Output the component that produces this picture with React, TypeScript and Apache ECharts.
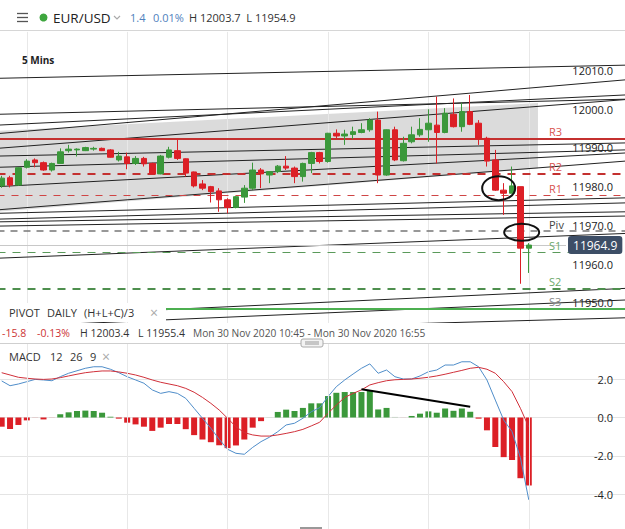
import React, { useEffect, useRef } from "react";
import * as echarts from "echarts";

const FONT = "'Open Sans', 'Noto Sans', sans-serif";

// ---- Price candles (5 min) ----
const candleOpen = [11980.2, 11982.3, 11980.4, 11985.0, 11986.9, 11986.2, 11984.3, 11986.0, 11989.3, 11989.5, 11989.3, 11989.7, 11989.9, 11989.5, 11986.9, 11987.7, 11986.0, 11987.3, 11986.0, 11983.3, 11987.6, 11989.3, 11987.2, 11983.8, 11980.7, 11980.0, 11978.9, 11976.6, 11974.6, 11977.3, 11979.6, 11984.3, 11983.0, 11983.9, 11985.3, 11984.8, 11982.6, 11986.0, 11988.8, 11986.5, 11993.8, 11993.1, 11993.5, 11994.0, 11994.7, 11997.2, 11983.0, 11994.7, 11986.7, 11991.6, 11993.4, 11994.7, 11995.9, 11994.0, 11998.7, 11995.5, 11999.4, 11996.4, 11992.5, 11986.9, 11979.1, 11978.3, 11980.0, 11964.1];
const candleClose = [11982.2, 11980.4, 11984.9, 11986.6, 11986.2, 11984.3, 11986.0, 11989.0, 11989.7, 11989.7, 11990.1, 11989.9, 11989.3, 11987.6, 11987.9, 11986.0, 11987.3, 11985.9, 11983.3, 11987.9, 11989.5, 11987.3, 11983.5, 11980.2, 11979.6, 11978.7, 11976.6, 11974.6, 11977.4, 11979.6, 11984.3, 11983.3, 11983.9, 11985.3, 11984.8, 11982.6, 11986.0, 11988.8, 11986.5, 11993.8, 11993.1, 11993.6, 11994.2, 11994.7, 11997.2, 11983.0, 11994.7, 11986.9, 11991.2, 11993.4, 11994.8, 11996.4, 11994.0, 11999.0, 11995.5, 11999.4, 11996.1, 11992.5, 11986.6, 11979.1, 11978.3, 11980.2, 11964.1, 11964.9];
const candleLow = [11979.7, 11979.8, 11980.2, 11984.7, 11985.0, 11984.1, 11983.9, 11986.0, 11988.8, 11987.8, 11989.2, 11989.3, 11989.2, 11987.5, 11986.5, 11984.5, 11985.6, 11985.2, 11983.2, 11983.2, 11987.3, 11986.9, 11982.6, 11979.8, 11979.1, 11975.9, 11973.5, 11973.1, 11974.4, 11975.8, 11979.1, 11979.6, 11980.9, 11983.5, 11984.3, 11980.9, 11981.3, 11983.5, 11986.0, 11986.2, 11992.5, 11990.8, 11992.3, 11993.8, 11994.2, 11980.9, 11982.8, 11986.6, 11986.5, 11991.2, 11992.9, 11991.6, 11986.0, 11993.8, 11995.3, 11994.2, 11995.9, 11990.8, 11985.2, 11978.9, 11972.7, 11978.3, 11954.9, 11957.7];
const candleHigh = [11982.8, 11982.8, 11985.0, 11987.1, 11987.3, 11986.5, 11986.2, 11989.9, 11990.8, 11989.9, 11990.3, 11990.3, 11990.1, 11989.7, 11989.0, 11988.8, 11987.9, 11987.7, 11986.2, 11988.2, 11990.3, 11992.5, 11987.3, 11983.9, 11981.7, 11980.2, 11979.6, 11977.0, 11977.6, 11980.4, 11986.2, 11984.8, 11983.9, 11985.6, 11987.9, 11985.2, 11986.2, 11989.0, 11989.0, 11993.9, 11994.8, 11994.7, 11995.5, 11996.4, 11997.7, 11999.4, 11994.8, 11995.5, 11992.9, 11995.5, 11997.7, 12000.0, 12003.3, 12000.3, 12002.8, 12001.7, 12003.7, 11997.2, 11992.9, 11989.5, 11980.9, 11985.2, 11980.0, 11965.4];
const slotCount = 75;
const lastPrice = 11964.9;

// ---- MACD(12,26,9) ----
const macdHist = [-0.48, -0.6, -0.39, -0.15, -0.02, -0.1, -0.02, 0.17, 0.27, 0.34, 0.36, 0.34, 0.25, 0.04, -0.06, -0.27, -0.36, -0.48, -0.7, -0.53, -0.34, -0.34, -0.61, -0.92, -1.15, -1.29, -1.45, -1.6, -1.46, -1.15, -0.53, -0.19, 0.01, 0.29, 0.41, 0.34, 0.5, 0.74, 0.74, 1.12, 1.29, 1.33, 1.33, 1.33, 1.4, 0.42, 0.5, 0.03, -0.01, 0.08, 0.2, 0.32, 0.25, 0.47, 0.35, 0.47, 0.3, -0.06, -0.67, -1.54, -2.07, -2.22, -3.17, -3.55];
const macdLine = [1.91, 1.66, 1.75, 1.87, 1.99, 1.96, 1.92, 2.13, 2.31, 2.44, 2.57, 2.65, 2.65, 2.52, 2.34, 2.13, 1.96, 1.79, 1.44, 1.26, 1.35, 1.26, 1.0, 0.48, -0.04, -0.56, -1.14, -1.66, -1.87, -1.92, -1.56, -1.26, -1.03, -0.74, -0.39, -0.3, -0.04, 0.3, 0.51, 1.09, 1.61, 1.96, 2.27, 2.57, 2.8, 2.31, 2.48, 2.13, 2.01, 2.01, 2.17, 2.39, 2.48, 2.74, 2.74, 2.91, 2.91, 2.65, 1.96, 0.91, -0.13, -0.74, -2.1, -4.3];
const signalLine = [2.34, 2.22, 2.1, 2.05, 2.01, 1.99, 2.01, 2.08, 2.17, 2.26, 2.34, 2.39, 2.43, 2.43, 2.38, 2.31, 2.22, 2.1, 1.96, 1.84, 1.75, 1.66, 1.52, 1.32, 1.05, 0.74, 0.39, -0.04, -0.48, -0.79, -0.91, -0.97, -0.97, -0.91, -0.83, -0.74, -0.62, -0.44, -0.25, 0.22, 0.65, 1.05, 1.26, 1.44, 1.7, 1.82, 1.92, 1.97, 1.99, 2.01, 2.05, 2.1, 2.17, 2.26, 2.36, 2.46, 2.57, 2.62, 2.52, 2.31, 1.87, 1.35, 0.48, -0.5];
const macdNoteIdx = [43, 56];
const macdNoteVal = [1.47, 0.56];

// ---- Daily pivots ----
const pivotNames = ["R3", "R2", "R1", "Piv", "S1", "S2", "S3"];
const pivotValues = [11992.5, 11983.3, 11977.8, 11968.5, 11963.0, 11953.7, 11948.4];

// ---- Drawn trend lines (price at left edge / right edge of the chart) ----
const trendIdx = [-0.5, 74.5];
const trendStartPrice = [12008.0, 11998.7, 11995.9, 11993.7, 11989.9, 11987.9, 11985.0, 11980.0, 11974.0, 11973.1, 11971.6, 11970.9, 11969.8, 11961.5, 11946.2, 11943.7, 11941.6];
const trendEndPrice = [12011.4, 12002.6, 12003.7, 12007.6, 12002.5, 11991.3, 11989.5, 11988.7, 11986.6, 11977.1, 11975.8, 11973.5, 11972.4, 11967.9, 11953.7, 11950.7, 11946.1];

// ---- Shaded channel ----
const channelIdx = [-0.5, 64.1];
const channelTop = [11994.4, 12001.6];
const channelBottom = [11973.5, 11984.7];

// ---- Annotations ----
const ellipseIdx = [59.4, 62.15];
const ellipsePrice = [11979.6, 11968.2];
const hourIdx = [3, 15, 27, 39, 51, 63];

const GREEN = "#3b983b";
const RED = "#dc1f26";

export default function App() {
  const ref = useRef<HTMLDivElement>(null);
  useEffect(() => {
    if (!ref.current) return;
    document.body.style.margin = "0";
    const chart = echarts.init(ref.current, null, { renderer: "svg" });
    const slots = Array.from({ length: slotCount }, (_, i) => String(i));
    const candles = candleOpen.map((o, i) => [o, candleClose[i], candleLow[i], candleHigh[i]]);
    const hist = macdHist.map((v) => ({
      value: v,
      itemStyle: { color: Math.abs(v) < 0.035 ? (v >= 0 ? "#b8ccb8" : "#e0b0b0") : v >= 0 ? GREEN : RED },
    }));
    const pivotStyles: any[] = [
      { color: "#c4302f", width: 2, type: "solid" },
      { color: "#c4302f", width: 2, type: [8, 7] },
      { color: "#cf4545", width: 1.2, type: [7, 7] },
      { color: "#777777", width: 1.5, type: [7, 6] },
      { color: "#5a9a5a", width: 1.2, type: [8, 7] },
      { color: "#4e8f4e", width: 2, type: [8, 7] },
      { color: "#4caf50", width: 2, type: "solid" },
    ];
    const pivotLabelColors = ["#d9534f", "#d9534f", "#d9534f", "#444444", "#6aa86a", "#6aa86a", "#888888"];

    const axisLabel = {
      inside: true,
      margin: 12,
      color: "#222",
      fontSize: 11,
      fontFamily: FONT,
      showMinLabel: false,
      showMaxLabel: false,
      formatter: (v: number) => v.toFixed(1),
    };

    const option: any = {
      animation: false,
      textStyle: { fontFamily: FONT },
      grid: [
        { left: -2.5, right: 0, top: 31.9, height: 309.5, outerBoundsMode: "none" },
        { left: -2.5, right: 0, top: 340.9, height: 191.5, outerBoundsMode: "none" },
      ],
      xAxis: [
        { type: "category", gridIndex: 0, data: slots, show: false, boundaryGap: true },
        { type: "value", gridIndex: 0, min: -0.5, max: 74.5, show: false },
        { type: "category", gridIndex: 1, data: slots, show: false, boundaryGap: true },
        { type: "value", gridIndex: 1, min: -0.5, max: 74.5, show: false },
      ],
      yAxis: [
        {
          type: "value", gridIndex: 0, min: 11940, max: 12020, interval: 10, position: "right",
          axisLine: { show: false }, axisTick: { show: false }, splitLine: { show: false },
          axisLabel, z: 10,
        },
        {
          type: "value", gridIndex: 1, min: -6, max: 4, interval: 2, position: "right",
          axisLine: { show: false }, axisTick: { show: false },
          splitLine: { show: true, lineStyle: { color: "#e4e4e4", width: 1 } },
          axisLabel,
        },
      ],
      series: [
        {
          type: "line", xAxisIndex: 1, yAxisIndex: 0, data: [], z: 0, silent: true,
          markLine: {
            silent: true, symbol: ["none", "none"], label: { show: false },
            lineStyle: { color: "#e8e8e8", width: 1, type: "solid" },
            data: hourIdx.map((v) => ({ xAxis: v })),
          },
        },
        {
          type: "custom", xAxisIndex: 1, yAxisIndex: 0, z: 1, silent: true,
          data: [[channelIdx[0], channelTop[0], channelBottom[0], channelIdx[1], channelTop[1], channelBottom[1]]],
          renderItem: (_p: any, api: any) => {
            const tl = api.coord([api.value(0), api.value(1)]);
            const bl = api.coord([api.value(0), api.value(2)]);
            const tr = api.coord([api.value(3), api.value(4)]);
            const br = api.coord([api.value(3), api.value(5)]);
            return { type: "polygon", shape: { points: [tl, tr, br, bl] }, style: { fill: "rgba(190,190,190,0.55)" } };
          },
        },
        {
          type: "line", xAxisIndex: 1, yAxisIndex: 0, data: [], z: 3, silent: true,
          markLine: {
            silent: true, symbol: ["none", "none"], label: { show: false },
            lineStyle: { color: "#222", width: 1, type: "solid" },
            data: trendStartPrice.map((p, k) => [
              { coord: [trendIdx[0], p] },
              { coord: [trendIdx[1], trendEndPrice[k]] },
            ]),
          },
        },
        {
          type: "line", xAxisIndex: 1, yAxisIndex: 0, data: [], z: 3, silent: true,
          markLine: {
            silent: true, symbol: ["none", "none"], label: { show: false },
            data: pivotValues.map((v, k) => ({ yAxis: v, lineStyle: pivotStyles[k] })),
          },
        },
        {
          type: "line", xAxisIndex: 1, yAxisIndex: 0, data: [], z: 4, silent: true,
          markLine: {
            silent: true, symbol: ["none", "none"],
            lineStyle: { color: "#c8c8c8", width: 1, type: "solid" },
            label: {
              show: true, position: "end", distance: 2,
              formatter: () => lastPrice.toFixed(1),
              color: "#fff", backgroundColor: "#3d4e66", padding: [3, 5, 3, 5], borderRadius: 3,
              fontSize: 12, fontFamily: FONT,
            },
            data: [[{ coord: [trendIdx[0], lastPrice] }, { coord: [67.45, lastPrice] }]],
          },
        },
        {
          type: "candlestick", xAxisIndex: 0, yAxisIndex: 0, z: 5, barWidth: 6, data: candles,
          itemStyle: { color: GREEN, color0: RED, borderColor: GREEN, borderColor0: RED, borderWidth: 1 },
        },
        {
          type: "line", xAxisIndex: 3, yAxisIndex: 1, data: [], z: 0, silent: true,
          markLine: {
            silent: true, symbol: ["none", "none"], label: { show: false },
            lineStyle: { color: "#e8e8e8", width: 1, type: "solid" },
            data: hourIdx.map((v) => ({ xAxis: v })),
          },
        },
        { type: "bar", xAxisIndex: 2, yAxisIndex: 1, barWidth: 6, data: hist, z: 3 },
        {
          type: "line", xAxisIndex: 2, yAxisIndex: 1, data: macdLine, symbol: "none", z: 4,
          lineStyle: { color: "#4f8dc9", width: 1 },
        },
        {
          type: "line", xAxisIndex: 2, yAxisIndex: 1, data: signalLine, symbol: "none", z: 4,
          lineStyle: { color: "#d0303a", width: 1 },
        },
        {
          type: "line", xAxisIndex: 3, yAxisIndex: 1, symbol: "none", z: 5,
          data: macdNoteIdx.map((x, k) => [x, macdNoteVal[k]]),
          lineStyle: { color: "#000", width: 2 },
        },
      ],
    };
    chart.setOption(option);

    const yOf = (v: number) => chart.convertToPixel({ yAxisIndex: 0 } as any, v) as unknown as number;
    const ptOf = (x: number, y: number) =>
      chart.convertToPixel({ xAxisIndex: 1, yAxisIndex: 0 } as any, [x, y]) as unknown as number[];

    const txt = (text: string, x: number, y: number, fill: string, size = 11, weight: any = "normal", align = "left") => ({
      type: "text", x, y, z: 120,
      style: { text, fill, fontSize: size, fontFamily: FONT, fontWeight: weight, textAlign: align, textVerticalAlign: "middle", verticalAlign: "middle" },
    });

    const g: any[] = [];
    // header
    g.push({ type: "rect", shape: { x: 0, y: 0, width: 625, height: 30 }, style: { fill: "#fff" }, z: 110 });
    g.push({ type: "line", shape: { x1: 0, y1: 30.5, x2: 625, y2: 30.5 }, style: { stroke: "#d6d6d6", lineWidth: 1 }, z: 111 });
    [13.5, 17.5, 21.5].forEach((yy) =>
      g.push({ type: "line", shape: { x1: 17, y1: yy, x2: 28, y2: yy }, style: { stroke: "#555", lineWidth: 1.3 }, z: 120 })
    );
    g.push({ type: "circle", shape: { cx: 43.5, cy: 17.5, r: 4 }, style: { fill: "#3ea63e" }, z: 120 });
    g.push(txt("EUR/USD", 53, 17.5, "#222", 13.5));
    g.push({ type: "polyline", shape: { points: [[114, 16], [117, 19], [120, 16]] }, style: { stroke: "#aaa", lineWidth: 1.2, fill: "none" }, z: 120 });
    g.push(txt("1.4", 130, 17.5, "#4f81bd", 11));
    g.push(txt("0.01%", 153, 17.5, "#4f81bd", 11));
    g.push(txt("H 12003.7  L 11954.9", 189, 17.5, "#333", 11));
    g.push(txt("5 Mins", 22, 60, "#222", 10, "bold"));

    // pivot labels
    pivotValues.forEach((v, k) => g.push(txt(pivotNames[k], 549, yOf(v) - 7, pivotLabelColors[k], 11)));

    // ellipses
    ellipseIdx.forEach((x, k) => {
      const p = ptOf(x, ellipsePrice[k]);
      g.push({ type: "ellipse", shape: { cx: p[0], cy: p[1], rx: k === 0 ? 16.5 : 17.5, ry: k === 0 ? 12 : 8.5 }, style: { fill: "none", stroke: "#111", lineWidth: 2 }, z: 115 });
    });

    // pivot legend box
    g.push({ type: "rect", shape: { x: 0, y: 303, width: 166, height: 19 }, style: { fill: "#fff" }, z: 110 });
    g.push(txt("PIVOT", 9, 312.5, "#333", 11));
    g.push(txt("DAILY", 47, 312.5, "#333", 11));
    g.push(txt("(H+L+C)/3", 84, 312.5, "#333", 11));
    g.push(txt("×", 150, 312.5, "#aaa", 14));

    // info row
    g.push({ type: "rect", shape: { x: 0, y: 323, width: 625, height: 20 }, style: { fill: "#fff" }, z: 110 });
    g.push(txt("-15.8", 2, 333, "#cc3333", 10.5));
    g.push(txt("-0.13%", 37, 333, "#cc3333", 10.5));
    g.push(txt("H 12003.4", 80, 333, "#333", 10.5));
    g.push(txt("L 11955.4", 138, 333, "#333", 10.5));
    g.push(txt("Mon 30 Nov 2020 10:45 - Mon 30 Nov 2020 16:55", 193, 333, "#555", 10.2));
    g.push({ type: "line", shape: { x1: 0, y1: 343.5, x2: 625, y2: 343.5 }, style: { stroke: "#cfcfcf", lineWidth: 1 }, z: 111 });
    g.push({ type: "rect", shape: { x: 301, y: 339, width: 22, height: 8, r: 2 }, style: { fill: "#f3f3f3", stroke: "#aaa", lineWidth: 1 }, z: 112 });
    g.push({ type: "line", shape: { x1: 305, y1: 342, x2: 319, y2: 342 }, style: { stroke: "#999", lineWidth: 1 }, z: 113 });
    g.push({ type: "line", shape: { x1: 305, y1: 344, x2: 319, y2: 344 }, style: { stroke: "#999", lineWidth: 1 }, z: 113 });

    // MACD label
    g.push(txt("MACD", 9, 356, "#333", 11));
    g.push(txt("12", 50, 356, "#333", 11));
    g.push(txt("26", 70, 356, "#333", 11));
    g.push(txt("9", 90, 356, "#333", 11));
    g.push(txt("×", 102, 356, "#aaa", 14));

    // scrollbar
    g.push({ type: "rect", shape: { x: 300, y: 527, width: 22, height: 2 }, style: { fill: "#999" }, z: 110 });

    chart.setOption({ graphic: g });
    return () => chart.dispose();
  }, []);
  return <div ref={ref} style={{ position: "absolute", left: 0, top: 0, width: 625, height: 529 }} />;
}
